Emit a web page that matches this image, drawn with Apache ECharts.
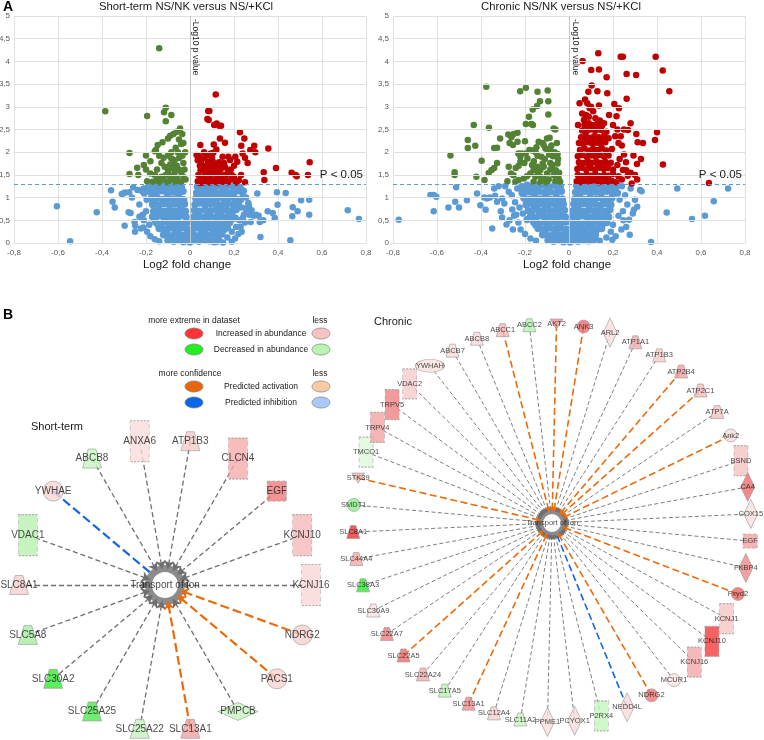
<!DOCTYPE html>
<html><head><meta charset="utf-8">
<script src="https://cdn.jsdelivr.net/npm/echarts@6/dist/echarts.min.js"></script>
<style>html,body{margin:0;padding:0;background:#fff}#c{width:764px;height:740px}</style>
</head><body><div id="c"></div><script>
const FONT = '"Liberation Sans", Arial, sans-serif';

// ---------------- Panel A: volcano data (log2 FC, -log10 p) ----------------
const stBlueCore = [
[-0.19,1.22],[-0.165,1.27],[-0.14,1.25],[-0.115,1.28],[-0.09,1.24],[-0.065,1.27],[-0.04,1.23],
[-0.18,1.12],[-0.155,1.1],[-0.13,1.15],[-0.105,1.1],[-0.08,1.13],[-0.055,1.1],[-0.032,1.14],
[-0.175,0.98],[-0.15,1.0],[-0.125,0.96],[-0.1,0.99],[-0.075,0.97],[-0.05,1.0],[-0.029,0.95],
[-0.17,0.85],[-0.145,0.83],[-0.12,0.87],[-0.095,0.84],[-0.07,0.86],[-0.045,0.83],[-0.025,0.86],
[-0.165,0.7],[-0.14,0.73],[-0.115,0.7],[-0.09,0.72],[-0.065,0.7],[-0.04,0.73],[-0.021,0.7],
[-0.17,0.58],[-0.145,0.6],[-0.12,0.57],[-0.095,0.59],[-0.07,0.56],[-0.045,0.6],[-0.018,0.57],
[-0.155,0.45],[-0.13,0.43],[-0.105,0.46],[-0.08,0.44],[-0.055,0.46],[-0.032,0.43],[-0.014,0.45],
[-0.14,0.32],[-0.115,0.3],[-0.09,0.33],[-0.065,0.31],[-0.04,0.33],[-0.012,0.3],
[-0.12,0.18],[-0.095,0.16],[-0.07,0.19],[-0.045,0.17],[-0.02,0.18],[-0.006,0.15],
[-0.1,0.06],[-0.075,0.04],[-0.05,0.07],[-0.03,0.03],[-0.01,0.06],[0.0,0.02],
[0.034,1.24],[0.055,1.27],[0.078,1.22],[0.1,1.26],[0.122,1.28],[0.145,1.23],[0.17,1.27],[0.195,1.24],[0.21,1.28],
[0.03,1.1],[0.052,1.14],[0.075,1.11],[0.1,1.13],[0.125,1.09],[0.15,1.14],[0.175,1.1],[0.2,1.12],[0.22,1.15],
[0.027,0.98],[0.049,1.01],[0.072,0.97],[0.097,1.0],[0.122,0.96],[0.147,1.0],[0.172,0.98],[0.197,1.01],[0.215,0.96],
[0.023,0.85],[0.045,0.88],[0.07,0.84],[0.095,0.87],[0.12,0.85],[0.145,0.83],[0.17,0.87],[0.195,0.84],[0.22,0.86],
[0.02,0.72],[0.043,0.7],[0.068,0.73],[0.093,0.71],[0.118,0.74],[0.143,0.7],[0.168,0.72],[0.193,0.7],[0.21,0.74],
[0.017,0.57],[0.04,0.6],[0.065,0.56],[0.09,0.59],[0.115,0.57],[0.14,0.6],[0.165,0.56],[0.19,0.59],[0.205,0.55],
[0.014,0.44],[0.035,0.46],[0.06,0.43],[0.085,0.46],[0.11,0.44],[0.135,0.47],[0.16,0.43],[0.18,0.45],
[0.011,0.31],[0.03,0.33],[0.055,0.3],[0.08,0.33],[0.105,0.31],[0.13,0.32],[0.155,0.3],[0.17,0.34],
[0.008,0.18],[0.025,0.16],[0.05,0.19],[0.075,0.17],[0.1,0.19],[0.125,0.16],[0.145,0.2],
[0.005,0.05],[0.02,0.08],[0.04,0.04],[0.065,0.07],[0.09,0.05],[0.11,0.03],[0.13,0.07],
[-0.152,1.18],[-0.102,1.19],[-0.06,1.2],[-0.16,0.92],[-0.11,0.92],[-0.062,0.9],[-0.13,0.64],[-0.082,0.65],[-0.032,0.64],
[-0.143,0.39],[-0.093,0.39],[-0.05,0.38],[-0.108,0.24],[-0.058,0.25],[0.062,1.18],[0.112,1.19],[0.16,1.18],[0.208,1.2],
[0.06,0.92],[0.11,0.91],[0.158,0.92],[0.205,0.9],[0.032,0.64],[0.08,0.65],[0.13,0.65],[0.18,0.64],[0.045,0.38],
[0.095,0.38],[0.145,0.38],[0.065,0.24],[0.115,0.25],[0.04,0.11],[0.09,0.12],[-0.085,0.11],[-0.04,0.1],[0.185,0.52],[-0.16,0.52]
];
const stBlueOut = [
[0.306,1.09],[0.395,1.12],[0.435,1.1],[0.505,0.94],[0.542,0.95],[0.398,0.84],[0.467,0.79],[0.489,0.7],
[0.542,0.62],[0.717,0.72],[0.768,0.53],[0.465,0.59],[0.353,0.7],[0.376,0.66],[0.385,0.55],[0.333,0.5],
[0.312,0.6],[0.317,0.46],[0.32,0.13],[0.456,0.06],[0.265,0.88],[0.26,0.78],[0.268,0.82],[0.276,0.46],
[0.29,0.6],[0.3,0.62],[0.27,0.62],[0.255,0.67],[0.24,0.55],[0.25,0.45],[0.23,0.36],[0.235,0.25],
[0.22,0.2],[0.205,0.1],[0.19,0.03],[0.15,0.01],[0.12,0.02],[0.245,1.15],[0.255,1.0],[0.232,0.95],[0.28,0.72],
[0.23,1.22],[0.24,1.05],[0.235,0.78],[0.245,0.62],[0.225,0.5],[0.21,0.35],[0.19,0.25],[0.17,0.12],
[-0.605,0.81],[-0.545,0.04],[-0.424,0.68],[-0.359,1.16],[-0.352,0.91],[-0.342,0.78],[-0.297,0.38],
[-0.303,1.09],[-0.276,1.12],[-0.279,0.68],[-0.264,1.0],[-0.252,0.46],[-0.249,0.38],[-0.258,1.23],
[-0.239,1.17],[-0.209,1.09],[-0.197,0.95],[-0.212,0.34],[-0.27,0.66],[-0.22,1.15],[-0.23,0.85],
[-0.215,0.62],[-0.21,0.5],[-0.195,0.25],[-0.18,0.15],[-0.16,0.08],[-0.14,0.04],[-0.2,0.7],[-0.185,0.4],
[-0.295,1.11],[-0.31,1.08],[-0.223,1.16],[-0.203,1.14],[-0.23,0.58],[-0.223,0.32],[-0.25,0.25],[-0.21,1.2]
];
const stGreen = [
[-0.14,4.29],[-0.385,2.9],[-0.195,2.8],[-0.11,2.98],[-0.118,2.88],[-0.085,2.82],[-0.11,2.68],[-0.045,2.52],
[-0.06,2.45],[-0.075,2.4],[-0.09,2.36],[-0.1,2.3],[-0.125,2.22],[-0.147,2.16],[-0.05,2.28],[-0.04,2.18],
[-0.065,2.1],[-0.155,2.05],[-0.16,2.02],[-0.2,1.93],[-0.275,1.98],[-0.14,1.92],[-0.12,1.88],[-0.1,1.93],
[-0.085,1.86],[-0.07,1.82],[-0.05,1.87],[-0.035,1.92],[-0.13,1.76],[-0.18,1.8],[-0.21,1.72],[-0.2,1.62],
[-0.24,1.66],[-0.275,1.52],[-0.235,1.5],[-0.18,1.53],[-0.15,1.62],[-0.115,1.68],[-0.1,1.6],[-0.09,1.73],
[-0.078,1.65],[-0.06,1.7],[-0.05,1.62],[-0.04,1.56],[-0.07,1.55],[-0.11,1.5],[-0.13,1.46],[-0.15,1.41],
[-0.195,1.36],[-0.17,1.35],[-0.09,1.39],[-0.06,1.43],[-0.03,1.46],[-0.04,1.35],[-0.1,1.33],[-0.08,1.46],
[-0.12,1.4],[-0.025,1.62],[-0.03,1.76],[-0.022,2.0],[-0.055,2.0],[-0.02,1.4],[-0.065,1.34],[-0.14,1.33],
[-0.16,1.5],[-0.075,1.78],[-0.035,2.4],[-0.03,2.2],[-0.085,2.0],[-0.095,1.5]
];
const stRed = [
[0.117,3.27],[0.083,2.91],[0.088,2.91],[0.079,2.73],[0.085,2.71],[0.11,2.6],[0.121,2.63],[0.133,2.58],
[0.141,2.58],[0.227,2.44],[0.247,2.3],[0.136,2.3],[0.159,2.21],[0.047,2.16],[0.108,2.17],[0.233,2.14],
[0.292,2.14],[0.274,2.05],[0.356,2.08],[0.297,2.0],[0.25,1.88],[0.262,1.76],[0.215,1.79],[0.174,1.9],
[0.206,1.9],[0.239,1.97],[0.12,2.06],[0.094,1.97],[0.106,1.99],[0.064,2.0],[0.03,1.94],[0.042,1.91],
[0.148,1.9],[0.182,1.83],[0.391,1.65],[0.335,1.56],[0.338,1.39],[0.462,1.55],[0.48,1.5],[0.485,1.47],
[0.536,1.5],[0.544,1.78],[0.189,1.5],[0.21,1.33],
[0.035,1.82],[0.05,1.76],[0.062,1.86],[0.072,1.7],[0.082,1.79],[0.092,1.72],[0.102,1.81],[0.112,1.75],
[0.122,1.69],[0.132,1.78],[0.048,1.6],[0.058,1.66],[0.068,1.55],[0.078,1.63],[0.088,1.57],[0.098,1.66],
[0.108,1.54],[0.118,1.61],[0.128,1.55],[0.14,1.63],[0.152,1.5],[0.162,1.44],[0.038,1.5],[0.05,1.44],
[0.06,1.39],[0.07,1.46],[0.08,1.37],[0.09,1.45],[0.1,1.4],[0.11,1.35],[0.12,1.43],[0.13,1.38],[0.14,1.46],
[0.15,1.35],[0.035,1.36],[0.045,1.32],[0.172,1.56],[0.19,1.4],[0.2,1.46],[0.222,1.38],[0.232,1.5],
[0.25,1.34],[0.16,1.67],[0.172,1.34],[0.06,1.33],[0.09,1.33],[0.125,1.33],[0.155,1.76],[0.075,1.92],
[0.1,1.88],[0.045,1.7],[0.185,1.62],[0.2,1.7],[0.14,1.72]
];
const chBlueCore = [
[-0.215,1.24],[-0.19,1.27],[-0.165,1.22],[-0.14,1.26],[-0.115,1.28],[-0.09,1.23],[-0.065,1.27],[-0.04,1.24],
[-0.21,1.1],[-0.185,1.13],[-0.16,1.09],[-0.135,1.14],[-0.11,1.11],[-0.085,1.13],[-0.06,1.1],[-0.035,1.14],
[-0.205,0.99],[-0.18,0.96],[-0.155,1.0],[-0.13,0.97],[-0.105,1.0],[-0.08,0.96],[-0.055,0.99],[-0.03,0.97],
[-0.195,0.84],[-0.17,0.87],[-0.145,0.83],[-0.12,0.86],[-0.095,0.84],[-0.07,0.87],[-0.047,0.83],[-0.026,0.86],
[-0.185,0.71],[-0.16,0.74],[-0.135,0.7],[-0.11,0.73],[-0.085,0.71],[-0.06,0.74],[-0.038,0.7],[-0.021,0.72],
[-0.175,0.58],[-0.15,0.56],[-0.125,0.6],[-0.1,0.57],[-0.075,0.59],[-0.05,0.56],[-0.03,0.6],[-0.017,0.57],
[-0.16,0.45],[-0.135,0.43],[-0.11,0.46],[-0.085,0.44],[-0.06,0.47],[-0.037,0.43],[-0.015,0.46],
[-0.14,0.32],[-0.115,0.3],[-0.09,0.33],[-0.065,0.31],[-0.04,0.33],[-0.013,0.3],
[-0.12,0.18],[-0.095,0.16],[-0.07,0.19],[-0.045,0.17],[-0.022,0.19],[-0.006,0.15],
[-0.095,0.06],[-0.07,0.04],[-0.048,0.07],[-0.025,0.03],[-0.008,0.06],[0.005,0.02],
[0.035,1.26],[0.055,1.23],[0.078,1.27],[0.1,1.24],[0.125,1.28],[0.15,1.22],[0.175,1.26],[0.2,1.24],[0.215,1.28],
[0.03,1.12],[0.05,1.09],[0.072,1.14],[0.097,1.1],[0.122,1.13],[0.147,1.1],[0.172,1.14],[0.197,1.11],[0.22,1.1],
[0.026,0.97],[0.045,1.0],[0.07,0.96],[0.095,0.99],[0.12,0.97],[0.145,1.0],[0.17,0.96],[0.195,0.99],
[0.022,0.86],[0.043,0.83],[0.068,0.87],[0.093,0.84],[0.118,0.86],[0.143,0.83],[0.168,0.87],[0.19,0.84],
[0.019,0.71],[0.04,0.74],[0.065,0.7],[0.09,0.73],[0.115,0.71],[0.14,0.74],[0.165,0.7],[0.185,0.73],
[0.016,0.59],[0.037,0.56],[0.062,0.6],[0.087,0.57],[0.112,0.59],[0.137,0.56],[0.16,0.6],[0.18,0.57],
[0.013,0.44],[0.033,0.47],[0.058,0.43],[0.083,0.46],[0.108,0.44],[0.133,0.47],[0.155,0.43],[0.172,0.45],
[0.011,0.32],[0.03,0.3],[0.052,0.33],[0.077,0.31],[0.102,0.33],[0.127,0.3],[0.148,0.32],
[0.008,0.17],[0.025,0.19],[0.047,0.16],[0.07,0.19],[0.095,0.17],[0.12,0.18],
[0.005,0.05],[0.022,0.08],[0.042,0.04],[0.065,0.07],[0.088,0.05],[0.11,0.06],
[-0.2,1.18],[-0.15,1.19],[-0.1,1.18],[-0.05,1.19],[-0.19,0.92],[-0.14,0.91],[-0.09,0.92],[-0.04,0.91],
[-0.17,0.64],[-0.12,0.65],[-0.07,0.65],[-0.03,0.66],[-0.15,0.39],[-0.1,0.38],[-0.05,0.39],[-0.11,0.24],[-0.06,0.25],
[0.06,1.18],[0.11,1.19],[0.16,1.18],[0.21,1.2],[0.058,0.92],[0.108,0.91],[0.158,0.92],[0.033,0.64],[0.08,0.65],
[0.128,0.65],[0.172,0.64],[0.045,0.38],[0.095,0.38],[0.14,0.38],[0.06,0.24],[0.108,0.25],[0.035,0.11],[0.08,0.12],
[-0.08,0.11],[-0.035,0.1],[-0.19,0.52],[0.17,0.52]
];
const chBlueOut = [
[0.492,1.2],[0.723,1.2],[0.658,0.92],[0.444,0.67],[0.559,0.53],[0.618,0.6],[0.373,0.02],[0.323,1.17],
[0.33,1.14],[0.28,1.2],[0.295,0.73],[0.273,0.51],[0.276,0.18],[0.247,0.5],[0.238,0.3],[0.212,0.15],
[0.197,0.07],[0.3,0.95],[0.31,0.8],[0.29,0.65],[0.265,0.85],[0.255,1.05],[0.24,1.25],[0.26,0.35],
[0.245,0.7],[0.23,0.95],[0.225,0.6],[0.2,0.4],[0.19,0.25],[0.17,0.12],[0.14,0.05],[0.12,0.1],
[-0.774,0.51],[-0.63,1.06],[-0.615,1.06],[-0.603,1.02],[-0.615,0.7],[-0.548,0.78],[-0.513,1.23],
[-0.517,0.91],[-0.5,0.78],[-0.464,0.94],[-0.418,1.09],[-0.403,0.83],[-0.379,0.73],[-0.373,0.98],
[-0.385,1.0],[-0.349,0.32],[-0.34,1.2],[-0.336,1.04],[-0.327,0.91],[-0.304,0.98],[-0.294,0.87],
[-0.274,1.13],[-0.304,0.56],[-0.284,0.41],[-0.258,0.74],[-0.25,0.6],[-0.26,1.05],[-0.245,0.9],
[-0.235,1.2],[-0.27,0.5],[-0.23,0.45],[-0.22,0.3],[-0.2,0.2],[-0.175,0.1],[-0.15,0.05],[-0.24,0.62],
[-0.225,0.78],[-0.32,1.25],[-0.29,1.25],[-0.36,1.0],[-0.31,0.7],[-0.255,0.3],[-0.215,1.1],[-0.21,0.65]
];
const chGreen = [
[-0.376,3.44],[-0.222,3.34],[-0.196,3.42],[-0.143,3.33],[-0.097,3.36],[-0.094,3.12],[-0.132,3.12],
[-0.145,3.02],[-0.165,2.94],[-0.094,2.83],[-0.182,2.78],[-0.196,2.62],[-0.171,2.62],[-0.164,2.6],
[-0.433,2.6],[-0.364,2.54],[-0.062,2.5],[-0.088,2.32],[-0.46,2.27],[-0.426,2.14],[-0.46,2.09],
[-0.539,1.93],[-0.52,1.56],[-0.52,1.5],[-0.421,1.46],[-0.397,1.81],[-0.384,1.39],[-0.365,1.54],
[-0.352,1.61],[-0.34,1.65],[-0.327,1.76],[-0.313,2.3],[-0.34,2.09],[-0.327,2.1],[-0.276,2.39],
[-0.262,2.33],[-0.252,2.4],[-0.234,2.43],[-0.27,2.2],[-0.255,2.16],[-0.234,2.23],[-0.2,2.24],
[-0.23,1.97],[-0.216,1.97],[-0.274,1.68],[-0.242,1.65],[-0.229,1.7],[-0.264,1.53],[-0.252,1.49],
[-0.221,1.79],[-0.203,1.76],[-0.166,2.04],[-0.152,2.0],[-0.143,1.92],[-0.121,2.2],[-0.115,2.16],
[-0.107,2.08],[-0.097,2.05],[-0.085,2.06],[-0.073,1.91],[-0.052,1.96],[-0.052,1.75],[-0.168,1.72],
[-0.161,1.61],[-0.145,1.68],[-0.13,1.61],[-0.115,1.68],[-0.1,1.53],[-0.085,1.62],[-0.07,1.5],
[-0.13,1.46],[-0.153,1.46],[-0.176,1.53],[-0.191,1.47],[-0.206,1.42],[-0.229,1.39],[-0.244,1.35],
[-0.115,1.42],[-0.092,1.4],[-0.062,1.37],[-0.047,1.42],[-0.161,1.35],[-0.13,1.34],[-0.1,1.33],
[-0.138,2.23],[-0.148,2.11],[-0.189,1.86],[-0.197,1.97],[-0.221,1.9],[-0.055,2.2],[-0.085,1.76],
[-0.06,1.6],[-0.075,1.72],[-0.11,1.85],[-0.125,1.9],[-0.09,1.95],[-0.065,2.0],[-0.045,1.55],
[-0.05,1.85],[-0.18,2.05],[-0.16,1.8],[-0.14,1.55],[-0.12,1.75],[-0.08,2.15],[-0.1,2.3],[-0.28,1.36],
[-0.04,1.35],[-0.07,2.52]
];
const chRed = [
[0.133,4.18],[0.062,4.01],[0.235,4.1],[0.245,4.1],[0.394,4.1],[0.101,3.81],[0.136,3.82],[0.426,3.8],
[0.262,3.72],[0.305,3.7],[0.171,3.65],[0.103,3.47],[0.456,3.34],[0.088,3.33],[0.129,3.34],[0.174,3.3],
[0.262,3.18],[0.048,3.08],[0.073,3.16],[0.083,3.08],[0.206,3.06],[0.227,2.97],[0.216,2.79],[0.28,2.64],
[0.136,3.03],[0.182,2.82],[0.159,2.64],[0.094,2.97],[0.077,2.82],[0.068,2.71],[0.041,2.6],[0.25,2.5],
[0.268,2.49],[0.306,2.4],[0.312,2.22],[0.336,2.2],[0.4,2.44],[0.391,2.27],[0.293,1.93],[0.327,1.85],
[0.309,1.74],[0.427,1.73],[0.636,1.32],[0.285,1.31],[0.259,1.78],[0.28,1.55],[0.245,1.61],[0.267,1.48],
[0.09,2.78],[0.11,2.9],[0.12,2.75],[0.14,2.7],[0.1,3.0],[0.06,2.85],[0.2,2.6],[0.22,2.5],[0.235,2.35],
[0.24,2.15],[0.225,2.2],[0.21,2.35],[0.25,1.95],[0.23,1.85],[0.22,1.72],[0.24,1.4],[0.26,1.6],[0.3,1.5],[0.31,1.4],
[0.035,1.36],[0.055,1.34],[0.075,1.37],[0.095,1.35],[0.115,1.38],[0.135,1.34],[0.155,1.36],[0.175,1.35],[0.195,1.37],[0.215,1.34],
[0.04,1.5],[0.06,1.47],[0.08,1.51],[0.1,1.48],[0.12,1.52],[0.14,1.47],[0.16,1.5],[0.18,1.48],[0.2,1.52],[0.225,1.47],
[0.038,1.63],[0.058,1.66],[0.078,1.62],[0.098,1.65],[0.118,1.62],[0.138,1.66],[0.158,1.63],[0.178,1.65],[0.2,1.62],
[0.045,1.78],[0.065,1.76],[0.085,1.8],[0.105,1.77],[0.125,1.8],[0.145,1.76],[0.165,1.79],[0.19,1.77],
[0.04,1.91],[0.06,1.94],[0.08,1.9],[0.1,1.93],[0.12,1.91],[0.14,1.94],[0.16,1.9],[0.18,1.93],
[0.05,2.05],[0.07,2.08],[0.09,2.04],[0.11,2.07],[0.13,2.05],[0.15,2.08],[0.17,2.04],[0.195,2.07],
[0.045,2.2],[0.065,2.18],[0.085,2.22],[0.105,2.19],[0.125,2.21],[0.145,2.18],[0.165,2.22],
[0.055,2.33],[0.075,2.36],[0.095,2.32],[0.115,2.35],[0.135,2.33],[0.16,2.36],[0.18,2.31],
[0.06,2.48],[0.08,2.46],[0.1,2.5],[0.12,2.47],[0.145,2.49],[0.17,2.45],
[0.07,2.6],[0.09,2.64],[0.11,2.6],[0.13,2.63],[0.15,2.58],
[0.05,1.43],[0.09,1.42],[0.13,1.41],[0.17,1.42],[0.05,1.71],[0.09,1.71],[0.13,1.72],[0.17,1.7],
[0.05,1.98],[0.09,1.99],[0.13,1.98],[0.17,1.98],[0.07,2.27],[0.11,2.27],[0.15,2.27],[0.09,2.55],[0.13,2.55]
];
const pThreshold = 1.30103; // -log10(0.05)

// ---------------- Panel B: networks ----------------
const stGenes  = ['ABCB8','ANXA6','ATP1B3','CLCN4','EGF','KCNJ10','KCNJ16','NDRG2','PACS1','PMPCB','SLC13A1','SLC25A22','SLC25A25','SLC30A2','SLC5A8','SLC8A1','VDAC1','YWHAE'];
const stShapes = ['trap','chan','trap','chan','gf','chan','chan','circ','circ','dia','trap','trap','trap','trap','trap','trap','chan','circ'];
const stColors = ['#c8f5c0','#fadcdc','#f8cccc','#f5abab','#ef7b7b','#f6b9b9','#fad6d6','#f8d0d0','#f9d3d3','#c8f5c0','#f3a0a0','#c6f3bd','#4eea4e','#35e835','#a6eea0','#f8cfcf','#b8f0b0','#f9d6d6'];
const stEdges  = ['g','g','g','g','g','g','g','o','o','g','o','g','g','g','g','g','g','b'];

const chGenes  = ['ABCB7','ABCB8','ABCC1','ABCC2','AKT2','ANK3','ARL2','ATP1A1','ATP1B3','ATP2B4','ATP2C1','ATP7A','Ank2','BSND','CA4','COX15','EGF','FKBP4','Fxyd2','KCNJ1','KCNJ10','KCNJ16','MCUR1','NDRG2','NEDD4L','P2RX4','PCYOX1','PPME1','SLC11A2','SLC12A4','SLC13A1','SLC17A5','SLC22A24','SLC22A5','SLC22A7','SLC30A9','SLC38A3','SLC44A4','SLC8A1','SMDT1','STK39','TMCO1','TRPV4','TRPV5','VDAC2','YWHAH'];
const chShapes = ['trap','trap','trap','trap','kin','circ','dia','trap','trap','trap','trap','trap','circ','chan','dia','dia','gf','dia','circ','chan','chan','chan','circ','circ','dia','chan','dia','dia','trap','trap','trap','trap','trap','trap','trap','trap','trap','trap','trap','circ','kin','chan','chan','chan','chan','ell'];
const chColors = ['#f9dcdc','#f9d8d8','#f6b8b8','#b5f2ad','#f09090','#ee6a6a','#fadcdc','#f4a9a9','#f8cccc','#f2a2a2','#f6bebe','#f6c2c2','#f9dcdc','#f6c2c2','#ef6e6e','#fadddd','#f3a3a3','#f08888','#ee6464','#f6c6c6','#f23c3c','#f3a8a8','#fbe6e6','#ee7474','#f9dada','#c4f5bc','#f9dada','#f9dcdc','#c8f5c0','#f8d0d0','#f08a8a','#b8f2b0','#f4aaaa','#ee6c6c','#ef7c7c','#fae0e0','#2ee62e','#f4a6a6','#f03232','#8cee8c','#f5b2b2','#dcf7d8','#f3a2a2','#f08282','#f8cccc','#fae0e0'];
const chEdges  = ['g','g','o','g','o','o','g','g','g','o','o','g','o','g','g','g','g','g','o','g','g','g','g','o','b','g','g','g','g','g','o','g','g','o','g','g','g','g','g','g','o','g','g','g','g','g'];

const legendRows = [
  {head:'more extreme in dataset', items:[['Increased in abundance','#ff3535','#f8c2c2'],['Decreased in abundance','#22ee22','#b9f5b1']]},
  {head:'more confidence', items:[['Predicted activation','#e8660c','#f8c9a2'],['Predicted inhibition','#0a66e6','#a9c9f6']]}
];

// ---------------- build ----------------
const SYM = {
  trap:'path://M3,0L7,0L10,10L0,10Z', chan:'rect', gf:'rect', circ:'circle', dia:'diamond',
  kin:'path://M0,0L10,0L5,8Z', ell:'path://M0,5A5,5 0 1,1 10,5A5,5 0 1,1 0,5Z'
};
const fmt = v => (Math.round(v*10)/10).toString().replace('.', ',');

function buildNet(genes, shapes, colors, edges, cfg) {
  const n = genes.length, nodes = [], lines = {g:[], o:[], b:[]};
  genes.forEach((g, i) => {
    const a = (cfg.start + i * 360 / n) * Math.PI / 180;
    const dx = Math.sin(a), dy = -Math.cos(a);
    const x = cfg.cx + cfg.r * dx, y = cfg.cy + cfg.r * dy;
    const sh = shapes[i];
    nodes.push({name:g, value:[x, y], symbol:SYM[sh], symbolSize:cfg.sizes[sh],
      itemStyle:{color:colors[i], borderColor:'#9a9a9a', borderWidth:0.8,
        borderType:(sh === 'chan' || sh === 'gf') ? [3,2] : 'solid'}});
    const rEnd = edges[i] === 'b' ? cfg.rOuter : cfg.rArrow;
    lines[edges[i]].push({coords:[[x, y], [cfg.cx + rEnd * dx, cfg.cy + rEnd * dy]]});
  });
  return {nodes, lines};
}

const ST = {cx:165, cy:585, r:146, start:-30, rArrow:16.5, rOuter:20, hub:33, hubW:7, font:10, arrow:8,
  sizes:{trap:[19,19], chan:[19,41], gf:[19,20], circ:[20,20], dia:[40,18]},
  gray:{w:1.3, d:[5,3]}, col:{w:2.2, d:[9,4]}};
const CH = {cx:552, cy:523, r:199, start:-30, rArrow:11.5, rOuter:14, hub:23, hubW:5, font:7.5, arrow:5,
  sizes:{trap:[13,13], chan:[14,30], gf:[14,14], circ:[13,13], dia:[14,29], kin:[13,10], ell:[29,13]},
  gray:{w:0.9, d:[4,2.5]}, col:{w:1.6, d:[7,3.5]}};

const stNet = buildNet(stGenes, stShapes, stColors, stEdges, ST);
const chNet = buildNet(chGenes, chShapes, chColors, chEdges, CH);

function netSeries(net, cfg) {
  const base = {xAxisIndex:2, yAxisIndex:2, silent:true, animation:false};
  const L = (data, color, st, arrow, z) => ({...base, type:'lines', coordinateSystem:'cartesian2d', z,
    symbol:['none', arrow ? 'arrow' : 'none'], symbolSize:cfg.arrow,
    lineStyle:{color, width:st.w, type:st.d, opacity:1, curveness:0}, data});
  return [
    {...base, type:'scatter', z:3, symbol:'circle', symbolSize:cfg.hub,
      itemStyle:{color:'#fff', borderColor:'#6f6f6f', borderWidth:cfg.hubW}, data:[[cfg.cx, cfg.cy]]},
    L(net.lines.g, '#6f6f6f', cfg.gray, true, 4),
    L(net.lines.o, '#ec6a0c', cfg.col, true, 4),
    L(net.lines.b, '#1466e6', cfg.col, false, 4),
    {...base, type:'scatter', z:5, data:net.nodes,
      label:{show:true, position:'inside', formatter:'{b}', fontSize:cfg.font, color:'#1a1a1a', fontFamily:FONT}},
    {...base, type:'scatter', z:6, symbolSize:1, itemStyle:{color:'rgba(0,0,0,0)'},
      data:[{name:'Transport of ion', value:[cfg.cx, cfg.cy]}],
      label:{show:true, position:'inside', formatter:'{b}', fontSize:cfg.font, color:'#1a1a1a', fontFamily:FONT}}
  ];
}

function volcano(gi, core, out, green, red) {
  const base = {type:'scatter', xAxisIndex:gi, yAxisIndex:gi, symbolSize:6.5, silent:true, animation:false};
  const st = c => ({color:c, opacity:1, borderWidth:0});
  return [
    {...base, data:core, symbolSize:7.5, itemStyle:st('#5b9bd5')},
    {...base, data:out, itemStyle:st('#5b9bd5')},
    {...base, data:green, itemStyle:st('#548235')},
    {...base, data:red, itemStyle:st('#c00000'),
      markLine:{silent:true, symbol:['none','none'], animation:false,
        lineStyle:{color:'#5b9bd5', type:[4,3], width:1},
        label:{show:true, position:'insideEndTop', formatter:'P < 0.05', color:'#1a1a1a', fontSize:11.5, fontFamily:FONT, distance:3},
        data:[{yAxis:pThreshold}]}}
  ];
}

const xAx = gi => ({gridIndex:gi, type:'value', min:-0.8, max:0.8, interval:0.2,
  axisLine:{show:true, onZero:false, lineStyle:{color:'#d9d9d9'}}, axisTick:{show:false},
  axisLabel:{fontSize:8, color:'#595959', margin:6, formatter:fmt, showMinLabel:true, showMaxLabel:true, fontFamily:FONT},
  splitLine:{show:true, lineStyle:{color:'#e1e1e1', width:1}}});
const yAx = gi => ({gridIndex:gi, type:'value', min:0, max:5, interval:0.5, z:5,
  axisLine:{show:true, onZero:true, lineStyle:{color:'#c4c4c4'}}, axisTick:{show:false},
  axisLabel:{fontSize:8, color:'#595959', margin:4, formatter:fmt, showMinLabel:true, showMaxLabel:true, fontFamily:FONT},
  splitLine:{show:true, lineStyle:{color:'#e1e1e1', width:1}}});

const T = (text, x, y, size, align, extra) => Object.assign({type:'text', x, y, z:20, silent:true,
  style:{text, fontSize:size, fontFamily:FONT, fill:'#1a1a1a', align:align || 'left', verticalAlign:'middle'}}, extra || {});

const graphics = [
  T('A', 3, 7, 14, 'left', {style:{text:'A', fontSize:14, fontWeight:'bold', fontFamily:FONT, fill:'#000', align:'left', verticalAlign:'middle'}}),
  T('B', 3, 315, 14, 'left', {style:{text:'B', fontSize:14, fontWeight:'bold', fontFamily:FONT, fill:'#000', align:'left', verticalAlign:'middle'}}),
  T('Short-term NS/NK versus NS/+KCl', 186, 7, 11.3, 'center'),
  T('Chronic NS/NK versus NS/+KCl', 561, 7, 11.3, 'center'),
  T('Log2 fold change', 187, 265, 11.5, 'center'),
  T('Log2 fold change', 567, 265, 11.5, 'center'),
  T('-Log10 p value', 195, 19, 8.5, 'left', {rotation:-Math.PI/2}),
  T('-Log10 p value', 575, 19, 8.5, 'left', {rotation:-Math.PI/2}),
  T('Short-term', 31, 427, 11, 'left'),
  T('Chronic', 374, 322, 11, 'left')
];
legendRows.forEach((row, r) => {
  const y0 = r === 0 ? 321 : 374;
  graphics.push(T(row.head, r === 0 ? 194 : 190, y0, 8.5, 'center'));
  graphics.push(T('less', 320, y0, 8.5, 'center'));
  row.items.forEach((it, k) => {
    const y = y0 + 12.5 + k * 16;
    graphics.push({type:'ellipse', z:20, silent:true, shape:{cx:194, cy:y, rx:9, ry:5.5}, style:{fill:it[1], stroke:'#8a8a8a', lineWidth:0.8}});
    graphics.push({type:'ellipse', z:20, silent:true, shape:{cx:321, cy:y, rx:9, ry:5.5}, style:{fill:it[2], stroke:'#8a8a8a', lineWidth:0.8}});
    graphics.push(T(it[0], 261, y, 8.5, 'center'));
  });
});

const chart = echarts.init(document.getElementById('c'), null, {renderer:'canvas'});
chart.setOption({
  animation:false,
  backgroundColor:'#fff',
  grid:[
    {left:14, top:16, width:352, height:227, containLabel:false, outerBoundsMode:'none'},
    {left:393, top:16, width:352, height:227, containLabel:false, outerBoundsMode:'none'},
    {left:0, top:0, width:764, height:740, containLabel:false, outerBoundsMode:'none'}
  ],
  xAxis:[xAx(0), xAx(1), {gridIndex:2, type:'value', min:0, max:764, show:false}],
  yAxis:[yAx(0), yAx(1), {gridIndex:2, type:'value', min:0, max:740, inverse:true, show:false}],
  graphic:graphics,
  series:[].concat(
    volcano(0, stBlueCore, stBlueOut, stGreen, stRed),
    volcano(1, chBlueCore, chBlueOut, chGreen, chRed),
    netSeries(stNet, ST),
    netSeries(chNet, CH)
  )
});
</script></body></html>
